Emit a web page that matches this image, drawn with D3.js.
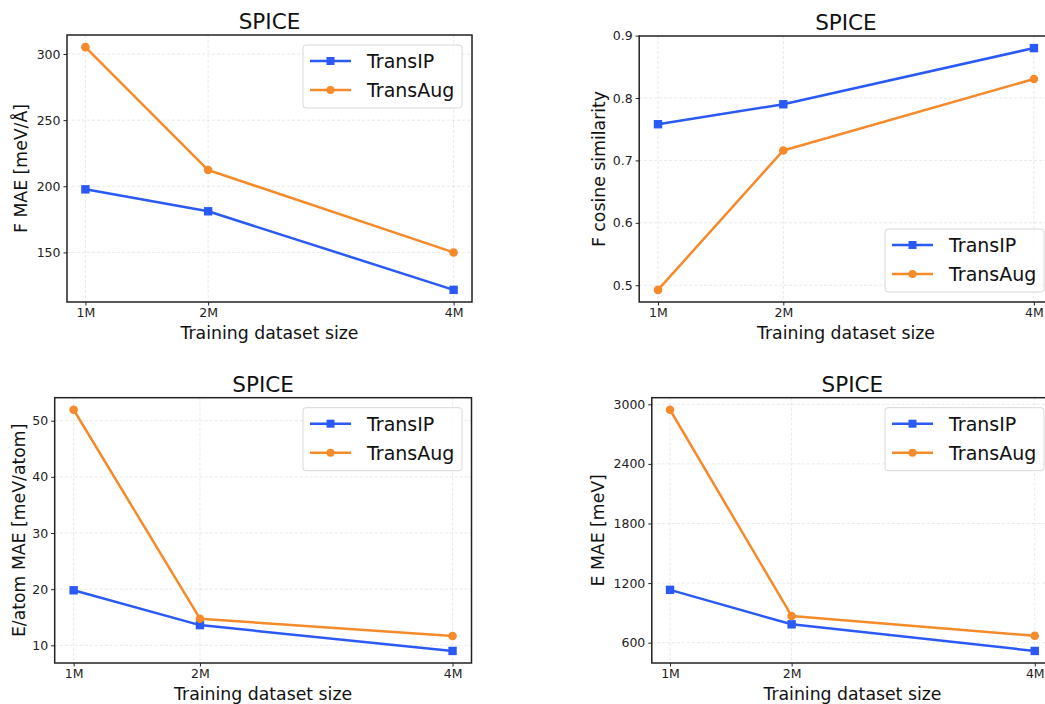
<!DOCTYPE html>
<html>
<head>
<meta charset="utf-8">
<script src="https://cdn.jsdelivr.net/npm/d3@7"></script>
<style>
  html, body { margin: 0; padding: 0; background: #fff; overflow: hidden; }
  svg { display: block; font-family: "DejaVu Sans", sans-serif; }
</style>
</head>
<body>
<svg id="chart" width="1045" height="704"></svg>
<script>
// Training set sizes (millions of samples)
const sizes = [1, 2, 4];
const sizeLabels = ["1M", "2M", "4M"];
const seriesNames = ["TransIP", "TransAug"];

// Force MAE [meV/Å]
const fMaeTransIP = [197.7, 181.1, 121.7];
const fMaeTransAug = [305.2, 212.3, 150.0];
const fMaeTicks = [150, 200, 250, 300];

// Force cosine similarity
const fCosTransIP = [0.758, 0.790, 0.880];
const fCosTransAug = [0.4925, 0.716, 0.8305];
const fCosTicks = [0.5, 0.6, 0.7, 0.8, 0.9];

// Energy per atom MAE [meV/atom]
const eAtomTransIP = [19.8, 13.6, 9.0];
const eAtomTransAug = [51.95, 14.74, 11.66];
const eAtomTicks = [10, 20, 30, 40, 50];

// Energy MAE [meV]
const eMaeTransIP = [1132, 785, 517];
const eMaeTransAug = [2945, 869, 670];
const eMaeTicks = [600, 1200, 1800, 2400, 3000];

const colors = { TransIP: "#2b59f5", TransAug: "#f58a2b" };

const panels = [
  { box: [67, 35, 472, 302], ylabel: "F MAE [meV/Å]", ylabelX: 20, ticks: fMaeTicks,
    series: [fMaeTransIP, fMaeTransAug], legend: [303, 45], fmt: d => d },
  { box: [639.2, 36, 1052.7, 302], ylabel: "F cosine similarity", ylabelX: 598, ticks: fCosTicks,
    series: [fCosTransIP, fCosTransAug], legend: [885, 229], fmt: d3.format(".1f") },
  { box: [54.7, 397.7, 471.5, 663], ylabel: "E/atom MAE [meV/atom]", ylabelX: 18, ticks: eAtomTicks,
    series: [eAtomTransIP, eAtomTransAug], legend: [303, 407.7], fmt: d => d },
  { box: [651.8, 397.7, 1053, 663], ylabel: "E MAE [meV]", ylabelX: 597, ticks: eMaeTicks,
    series: [eMaeTransIP, eMaeTransAug], legend: [885, 407.7], fmt: d => d }
];

const svg = d3.select("#chart");

function padded(lo, hi) {
  const r = hi - lo;
  return [lo - 0.05 * r, hi + 0.05 * r];
}

panels.forEach((p, pi) => {
  const [x0, y0, x1, y1] = p.box;
  const g = svg.append("g");
  const clipId = "clip" + pi;
  svg.append("clipPath").attr("id", clipId)
    .append("rect").attr("x", x0).attr("y", y0).attr("width", x1 - x0).attr("height", y1 - y0);

  const x = d3.scaleLinear().domain(padded(d3.min(sizes), d3.max(sizes))).range([x0, x1]);
  const all = p.series.flat();
  const y = d3.scaleLinear().domain(padded(d3.min(all), d3.max(all))).range([y1, y0]);

  // grid
  const grid = g.append("g").attr("clip-path", `url(#${clipId})`);
  grid.selectAll("line.gx").data(sizes).join("line")
    .attr("x1", d => x(d)).attr("x2", d => x(d)).attr("y1", y0).attr("y2", y1)
    .attr("stroke", "#b0b0b0").attr("stroke-opacity", 0.35).attr("stroke-width", 0.8)
    .attr("stroke-dasharray", "3,2");
  grid.selectAll("line.gy").data(p.ticks).join("line")
    .attr("x1", x0).attr("x2", x1).attr("y1", d => y(d)).attr("y2", d => y(d))
    .attr("stroke", "#b0b0b0").attr("stroke-opacity", 0.35).attr("stroke-width", 0.8)
    .attr("stroke-dasharray", "3,2");

  // axes
  const xAxis = d3.axisBottom(x).tickValues(sizes).tickFormat((d, i) => sizeLabels[i])
    .tickSize(3.5).tickPadding(3);
  const gx = g.append("g").attr("transform", `translate(0,${y1})`).call(xAxis);
  const yAxis = d3.axisLeft(y).tickValues(p.ticks).tickFormat(p.fmt).tickSize(3.5).tickPadding(3);
  const gy = g.append("g").attr("transform", `translate(${x0},0)`).call(yAxis);
  [gx, gy].forEach(a => {
    a.select(".domain").remove();
    a.selectAll(".tick line").attr("stroke", "#222").attr("stroke-width", 1);
    a.selectAll(".tick text").attr("fill", "#222").style("font-size", "12.5px")
      .style("font-family", "DejaVu Sans, sans-serif");
  });

  // lines and markers
  const line = d3.line().x((d, i) => x(sizes[i])).y(d => y(d));
  const plot = g.append("g");
  p.series.forEach((vals, si) => {
    const name = seriesNames[si];
    plot.append("path").datum(vals).attr("d", line).attr("fill", "none")
      .attr("stroke", colors[name]).attr("stroke-width", 2.5).attr("stroke-linejoin", "round");
    if (name === "TransIP") {
      plot.selectAll(null).data(vals).join("rect")
        .attr("x", (d, i) => x(sizes[i]) - 4.2).attr("y", d => y(d) - 4.2)
        .attr("width", 8.4).attr("height", 8.4).attr("fill", colors[name]);
    } else {
      plot.selectAll(null).data(vals).join("circle")
        .attr("cx", (d, i) => x(sizes[i])).attr("cy", d => y(d)).attr("r", 4.3)
        .attr("fill", colors[name]);
    }
  });

  // frame
  g.append("rect").attr("x", x0).attr("y", y0).attr("width", x1 - x0).attr("height", y1 - y0)
    .attr("fill", "none").attr("stroke", "#222").attr("stroke-width", 1.5);

  // title and axis labels
  g.append("text").attr("x", (x0 + x1) / 2).attr("y", y0 - 6).attr("text-anchor", "middle")
    .style("font-size", "21.5px").attr("fill", "#111").text("SPICE");
  g.append("text").attr("x", (x0 + x1) / 2).attr("y", y1 + 37).attr("text-anchor", "middle")
    .style("font-size", "17.3px").attr("fill", "#111").text("Training dataset size");
  g.append("text").attr("transform", `translate(${p.ylabelX + 7},${(y0 + y1) / 2}) rotate(-90)`)
    .attr("text-anchor", "middle").style("font-size", "17.3px").attr("fill", "#111").text(p.ylabel);

  // legend
  const [lx, ly] = p.legend;
  const lg = g.append("g").attr("transform", `translate(${lx},${ly})`);
  lg.append("rect").attr("x", 0).attr("y", 0).attr("width", 159).attr("height", 63).attr("rx", 3)
    .attr("fill", "#fff").attr("fill-opacity", 0.8).attr("stroke", "#d8d8d8").attr("stroke-width", 1);
  seriesNames.forEach((name, i) => {
    const yy = 16 + i * 29;
    lg.append("line").attr("x1", 7).attr("x2", 48).attr("y1", yy).attr("y2", yy)
      .attr("stroke", colors[name]).attr("stroke-width", 2.5);
    if (name === "TransIP") {
      lg.append("rect").attr("x", 27.5 - 4).attr("y", yy - 4).attr("width", 8).attr("height", 8)
        .attr("fill", colors[name]);
    } else {
      lg.append("circle").attr("cx", 27.5).attr("cy", yy).attr("r", 4).attr("fill", colors[name]);
    }
    lg.append("text").attr("x", 64).attr("y", yy + 7).style("font-size", "19px").attr("fill", "#111")
      .text(name);
  });
});
</script>
</body>
</html>
